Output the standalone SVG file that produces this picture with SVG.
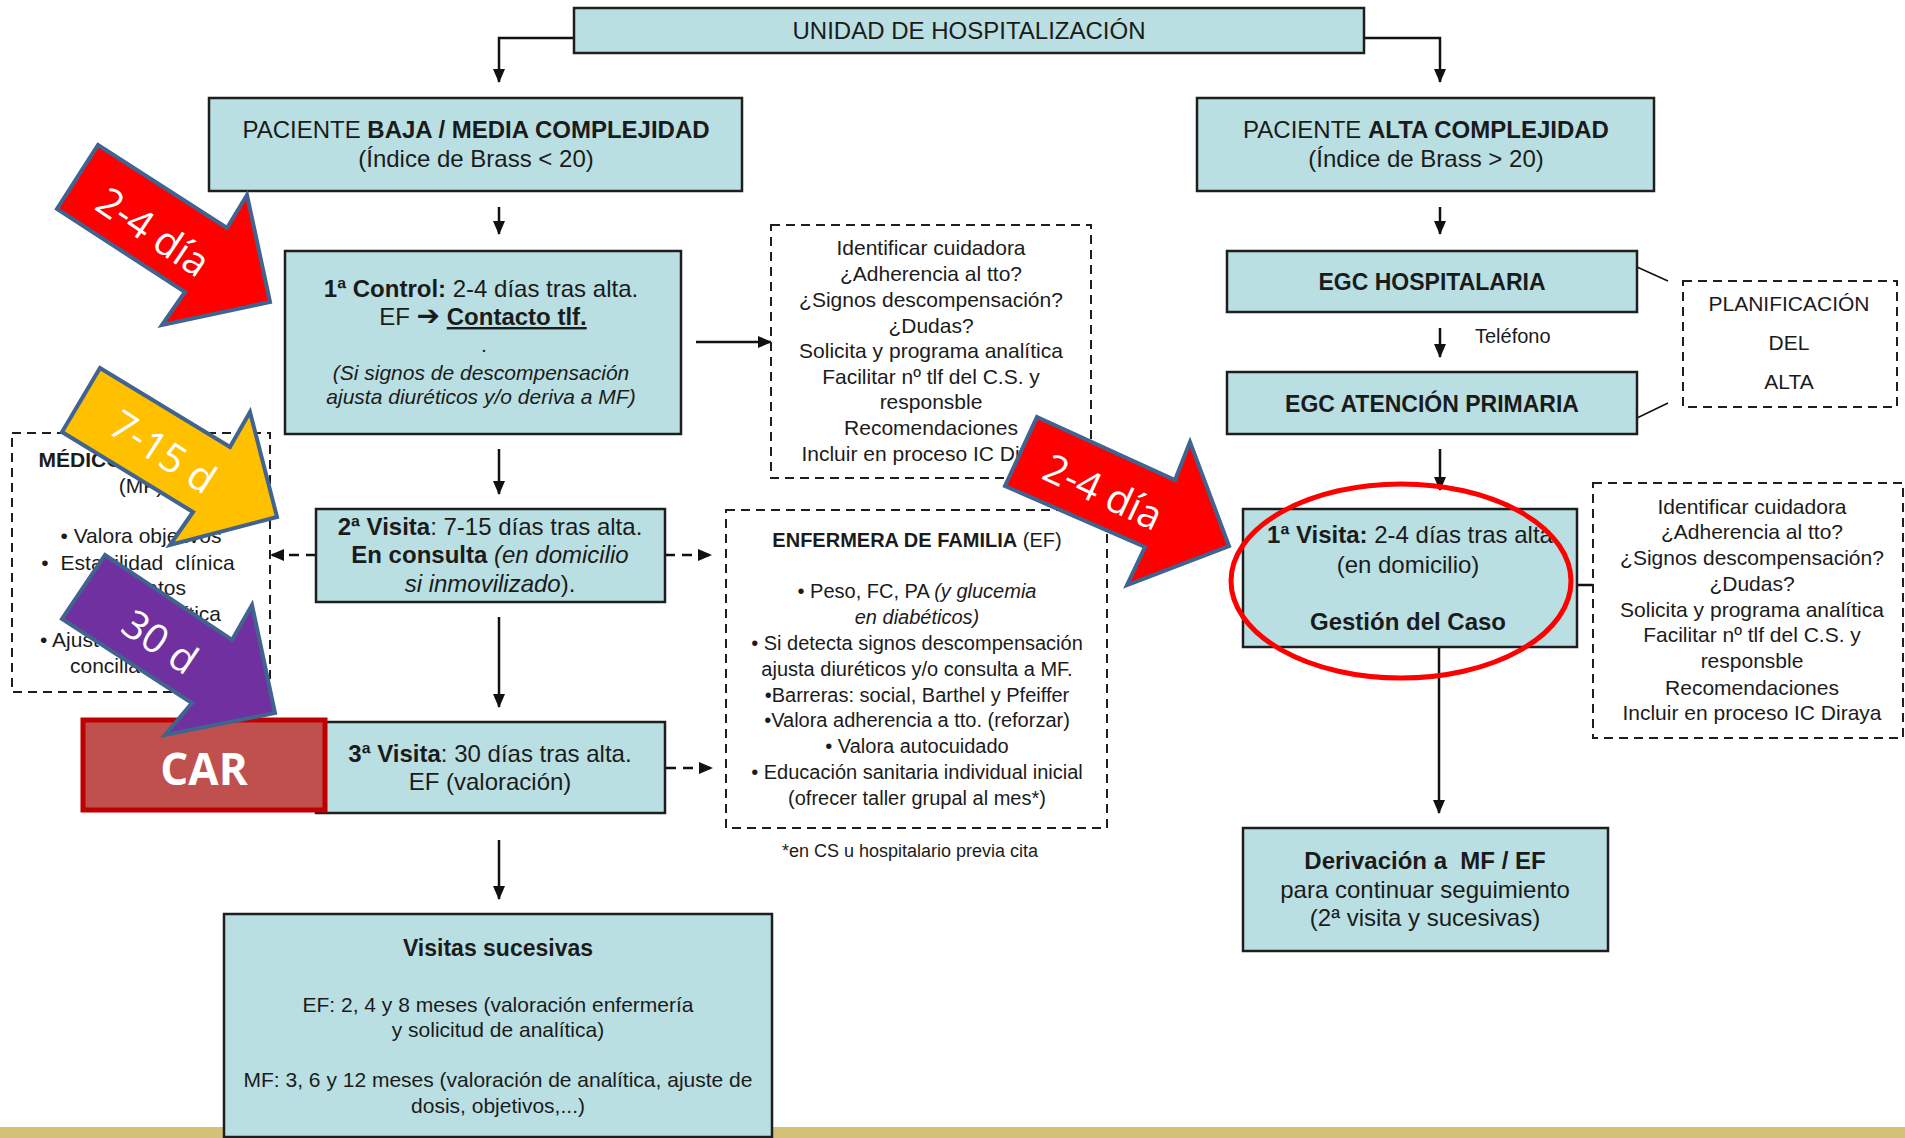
<svg xmlns="http://www.w3.org/2000/svg" width="1905" height="1138" viewBox="0 0 1905 1138">
<defs>
<style>
text{font-family:"Liberation Sans",Arial,sans-serif;fill:#1b1b1b}
.box{fill:#B9DFE2;stroke:#1e1e1e;stroke-width:2.5}
.dbox{fill:#fff;stroke:#1e1e1e;stroke-width:2;stroke-dasharray:9 6}
.ln{fill:none;stroke:#111;stroke-width:2.5}
.dl{fill:none;stroke:#111;stroke-width:2.5;stroke-dasharray:10 7}
.c{text-anchor:middle}
.f24{font-size:24px}
.f21{font-size:21px}
.f20{font-size:20px}
.b{font-weight:bold}
.i{font-style:italic}
.blk{stroke:#41638F;stroke-width:4;stroke-linejoin:miter}
.at{font-family:"Open Sans","Noto Sans",sans-serif;font-size:40px;fill:#fff;text-anchor:middle}
</style>
<marker id="ah" viewBox="0 0 14 12" refX="13" refY="6" markerWidth="14" markerHeight="12" markerUnits="userSpaceOnUse" orient="auto">
<path d="M0,0 L14,6 L0,12 z" fill="#111"/>
</marker>
</defs>

<rect x="0" y="1127" width="1905" height="11" fill="#D3C176"/>

<g id="connectors">
<polyline class="ln" points="574,38 499,38 499,82" marker-end="url(#ah)"/>
<polyline class="ln" points="1364,38 1440,38 1440,82" marker-end="url(#ah)"/>
<line class="ln" x1="499" y1="207" x2="499" y2="234" marker-end="url(#ah)"/>
<line class="ln" x1="1440" y1="207" x2="1440" y2="234" marker-end="url(#ah)"/>
<line class="ln" x1="1440" y1="328" x2="1440" y2="357" marker-end="url(#ah)"/>
<line class="ln" x1="1440" y1="449" x2="1440" y2="490" marker-end="url(#ah)"/>
<line class="ln" x1="696" y1="342" x2="771" y2="342" marker-end="url(#ah)"/>
<line class="ln" x1="499" y1="449" x2="499" y2="494" marker-end="url(#ah)"/>
<line class="dl" x1="316" y1="555" x2="271" y2="555" marker-end="url(#ah)"/>
<line class="dl" x1="665" y1="555" x2="711" y2="555" marker-end="url(#ah)"/>
<line class="ln" x1="499" y1="617" x2="499" y2="707" marker-end="url(#ah)"/>
<line class="dl" x1="666" y1="768" x2="712" y2="768" marker-end="url(#ah)"/>
<line class="ln" x1="499" y1="840" x2="499" y2="899" marker-end="url(#ah)"/>
<line class="ln" x1="1577" y1="585" x2="1622" y2="585" marker-end="url(#ah)"/>
<line class="ln" x1="1439" y1="647" x2="1439" y2="813" marker-end="url(#ah)"/>
<line class="ln" x1="1637" y1="267" x2="1668" y2="281" style="stroke-width:1.5"/>
<line class="ln" x1="1637" y1="418" x2="1668" y2="403" style="stroke-width:1.5"/>
<text x="1475" y="343" class="f20">Teléfono</text>
</g>

<g id="unidad">
<rect class="box" x="574" y="8" width="790" height="45"/>
<text x="969" y="39" class="c f24">UNIDAD DE HOSPITALIZACIÓN</text>
</g>

<g id="paciente-baja">
<rect class="box" x="209" y="98" width="533" height="93"/>
<text x="476" y="138" class="c f24">PACIENTE <tspan class="b">BAJA / MEDIA COMPLEJIDAD</tspan></text>
<text x="476" y="167" class="c f24">(Índice de Brass &lt; 20)</text>
</g>

<g id="paciente-alta">
<rect class="box" x="1197" y="98" width="457" height="93"/>
<text x="1426" y="138" class="c f24">PACIENTE <tspan class="b">ALTA COMPLEJIDAD</tspan></text>
<text x="1426" y="167" class="c f24">(Índice de Brass &gt; 20)</text>
</g>

<g id="control1">
<rect class="box" x="285" y="251" width="396" height="183"/>
<text x="481" y="297" class="c f24"><tspan class="b">1ª Control:</tspan> 2-4 días tras alta.</text>
<text x="483" y="325" class="c f24">EF <tspan class="b" style="font-family:'DejaVu Sans',sans-serif" font-size="28">➔</tspan> <tspan class="b" text-decoration="underline">Contacto tlf.</tspan></text>
<text x="484" y="352" class="c f21">.</text>
<text x="481" y="380" class="c f21 i">(Si signos de descompensación</text>
<text x="481" y="404" class="c f21 i">ajusta diuréticos y/o deriva a MF)</text>
</g>

<g id="lista-control">
<rect class="dbox" x="771" y="225" width="320" height="253"/>
<text class="c f21" x="931" y="255">Identificar cuidadora</text>
<text class="c f21" x="931" y="281">¿Adherencia al tto?</text>
<text class="c f21" x="931" y="307">¿Signos descompensación?</text>
<text class="c f21" x="931" y="333">¿Dudas?</text>
<text class="c f21" x="931" y="358">Solicita y programa analítica</text>
<text class="c f21" x="931" y="384">Facilitar nº tlf del C.S. y</text>
<text class="c f21" x="931" y="409">responsble</text>
<text class="c f21" x="931" y="435">Recomendaciones</text>
<text class="c f21" x="931" y="461">Incluir en proceso IC Diraya</text>
</g>

<g id="egc-hospitalaria">
<rect class="box" x="1227" y="251" width="410" height="61"/>
<text x="1432" y="290" class="c b" font-size="23">EGC HOSPITALARIA</text>
</g>

<g id="egc-primaria">
<rect class="box" x="1227" y="372" width="410" height="62"/>
<text x="1432" y="412" class="c b" font-size="23">EGC ATENCIÓN PRIMARIA</text>
</g>

<g id="planificacion">
<rect class="dbox" x="1683" y="281" width="214" height="126"/>
<text x="1789" y="311" class="c f21">PLANIFICACIÓN</text>
<text x="1789" y="350" class="c f21">DEL</text>
<text x="1789" y="389" class="c f21">ALTA</text>
</g>

<g id="medico">
<rect class="dbox" x="12" y="433" width="258" height="259"/>
<text x="143" y="467" class="c b f21">MÉDICO DE FAMILIA</text>
<text x="141" y="493" class="c f21">(MF)</text>
<text x="141" y="543" class="c f21">• Valora objetivos</text>
<text x="138" y="570" class="c f21" word-spacing="6">• Estabilidad clínica</text>
<text x="186" y="595" class="f21" text-anchor="end">y datos</text>
<text x="221" y="621" class="f21" text-anchor="end">de analítica</text>
<text x="40" y="647" class="f21">• Ajuste tratamiento y</text>
<text x="70" y="673" class="f21">conciliación</text>
</g>

<g id="visita2">
<rect class="box" x="316" y="509" width="349" height="93"/>
<text x="490" y="535" class="c f24"><tspan class="b">2ª Visita</tspan>: 7-15 días tras alta.</text>
<text x="490" y="563" class="c f24"><tspan class="b">En consulta</tspan> <tspan class="i">(en domicilio</tspan></text>
<text x="490" y="592" class="c f24"><tspan class="i">si inmovilizado</tspan>).</text>
</g>

<g id="enfermera">
<rect class="dbox" x="726" y="510" width="381" height="318"/>
<text x="917" y="547" class="c f20"><tspan class="b">ENFERMERA DE FAMILIA</tspan> (EF)</text>
<text x="917" y="598" class="c f20">• Peso, FC, PA <tspan class="i">(y glucemia</tspan></text>
<text x="917" y="624" class="c f20 i">en diabéticos)</text>
<text x="917" y="650" class="c f20">• Si detecta signos descompensación</text>
<text x="917" y="676" class="c f20">ajusta diuréticos y/o consulta a MF.</text>
<text x="917" y="702" class="c f20">•Barreras: social, Barthel y Pfeiffer</text>
<text x="917" y="727" class="c f20">•Valora adherencia a tto. (reforzar)</text>
<text x="917" y="753" class="c f20">• Valora autocuidado</text>
<text x="917" y="779" class="c f20">• Educación sanitaria individual inicial</text>
<text x="917" y="805" class="c f20">(ofrecer taller grupal al mes*)</text>
<text x="910" y="857" class="c" font-size="18">*en CS u hospitalario previa cita</text>
</g>

<g id="visita3">
<rect class="box" x="316" y="722" width="349" height="91"/>
<text x="490" y="762" class="c f24"><tspan class="b">3ª Visita</tspan>: 30 días tras alta.</text>
<text x="490" y="790" class="c f24">EF (valoración)</text>
</g>

<g id="car">
<rect x="83" y="720" width="242" height="90" fill="#C0504D" stroke="#C00000" stroke-width="5"/>
<text x="204" y="785" text-anchor="middle" font-weight="bold" font-size="44" style="fill:#fff;font-family:'Open Sans','Noto Sans',sans-serif">CAR</text>
</g>

<g id="visitas-sucesivas">
<rect class="box" x="224" y="914" width="548" height="223"/>
<text x="498" y="956" class="c b" font-size="23">Visitas sucesivas</text>
<text x="498" y="1012" class="c f21">EF: 2, 4 y 8 meses (valoración enfermería</text>
<text x="498" y="1037" class="c f21">y solicitud de analítica)</text>
<text x="498" y="1087" class="c f21">MF: 3, 6 y 12 meses (valoración de analítica, ajuste de</text>
<text x="498" y="1113" class="c f21">dosis, objetivos,...)</text>
</g>

<g id="visita1">
<rect class="box" x="1243" y="509" width="334" height="138"/>
<text x="1410" y="543" class="c f24"><tspan class="b">1ª Visita:</tspan> 2-4 días tras alta</text>
<text x="1408" y="573" class="c f24">(en domicilio)</text>
<text x="1408" y="630" class="c f24 b">Gestión del Caso</text>
</g>

<g id="lista-visita">
<rect class="dbox" x="1593" y="483" width="310" height="255"/>
<text class="c f21" x="1752" y="514">Identificar cuidadora</text>
<text class="c f21" x="1752" y="539">¿Adherencia al tto?</text>
<text class="c f21" x="1752" y="565">¿Signos descompensación?</text>
<text class="c f21" x="1752" y="591">¿Dudas?</text>
<text class="c f21" x="1752" y="617">Solicita y programa analítica</text>
<text class="c f21" x="1752" y="642">Facilitar nº tlf del C.S. y</text>
<text class="c f21" x="1752" y="668">responsble</text>
<text class="c f21" x="1752" y="695">Recomendaciones</text>
<text class="c f21" x="1752" y="720">Incluir en proceso IC Diraya</text>
</g>

<g id="derivacion">
<rect class="box" x="1243" y="828" width="365" height="123"/>
<text x="1425" y="869" class="c f24 b" style="white-space:pre">Derivación a  MF / EF</text>
<text x="1425" y="898" class="c f24">para continuar seguimiento</text>
<text x="1425" y="926" class="c f24">(2ª visita y sucesivas)</text>
</g>

<g id="gestion-ellipse">
<ellipse cx="1401" cy="581" rx="170" ry="97" fill="none" stroke="#FF0000" stroke-width="5"/>
</g>

<g id="flecha-2-4-izq">
<polygon class="blk" fill="#FF0000" points="98,145 227,228 247,195 270,302 162,325 185,292 57,209"/>
<text class="at" transform="translate(153,232) rotate(34)" y="14">2-4 día</text>
</g>
<g id="flecha-7-15">
<polygon class="blk" fill="#FFC000" points="100,368 230,447 250,412 277,517 170,545 193,512 62,432"/>
<text class="at" transform="translate(163,452) rotate(33)" y="14">7-15 d</text>
</g>
<g id="flecha-30">
<polygon class="blk" fill="#7030A0" points="105,555 232,640 252,605 275,713 165,735 192,703 62,619"/>
<text class="at" transform="translate(160,642) rotate(34)" y="14">30 d</text>
</g>
<g id="flecha-2-4-der">
<polygon class="blk" fill="#FF0000" points="1037,417 1175,480 1190,442 1229,546 1127,585 1145,547 1005,486"/>
<text class="at" transform="translate(1103,492) rotate(25)" y="14">2-4 día</text>
</g>
</svg>
